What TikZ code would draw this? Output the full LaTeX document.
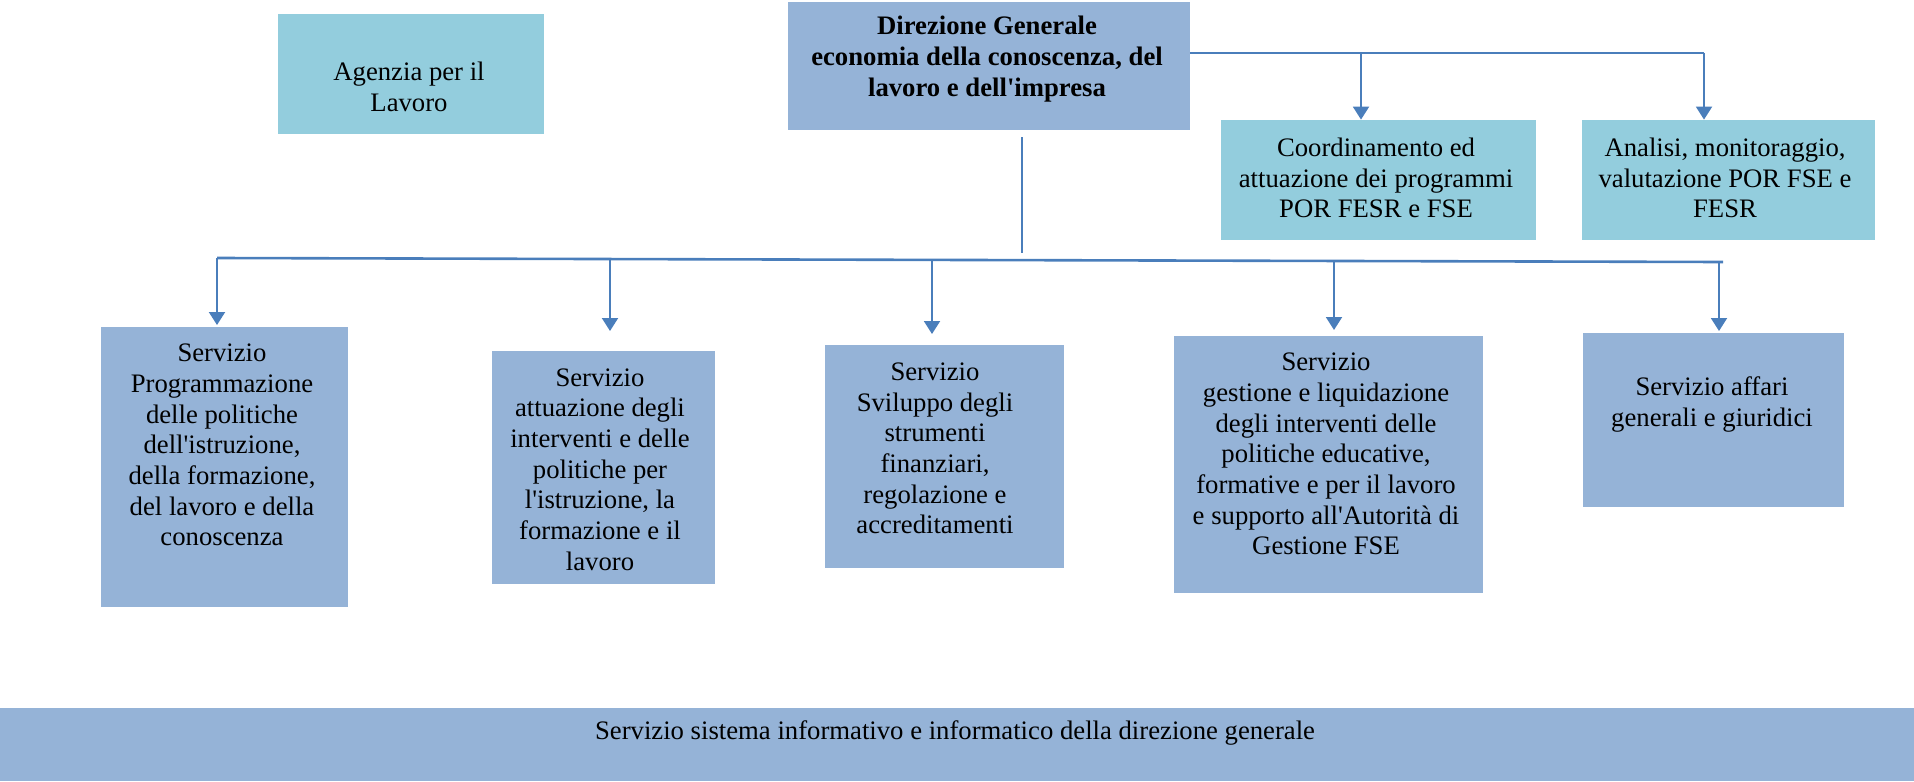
\documentclass[tikz,border=0pt]{standalone}
\usepackage{fontspec}
\setmainfont{Liberation Serif}
\usetikzlibrary{arrows.meta,fit}
\definecolor{aquafill}{HTML}{93CDDD}
\definecolor{bluefill}{HTML}{95B3D7}
\definecolor{linecol}{HTML}{4A7EBB}
\newcommand{\apo}{\textquotesingle}
\begin{document}
\begin{tikzpicture}[x=0.5pt,y=-0.5pt,
  aqbox/.style={fill=aquafill, draw=none, inner sep=0pt},
  blbox/.style={fill=bluefill, draw=none, inner sep=0pt},
  txt/.style={align=center, inner sep=0pt, font=\fontsize{13.35}{15.35}\selectfont},
  conn/.style={draw=linecol, line width=1pt},
  arr/.style={draw=linecol, line width=1pt, -{Triangle[length=6.5pt,width=8pt]}}]
\useasboundingbox (0,0) rectangle (1914,781);
% boxes
\node[aqbox, fit={(278,14) (544,134)}] (agz) {};
\node[blbox, fit={(788,2) (1190,130)}] (dir) {};
\node[aqbox, fit={(1221,120) (1536,240)}] (coord) {};
\node[aqbox, fit={(1582,120) (1875,240)}] (anal) {};
\node[blbox, fit={(101,327) (348,607)}] (s1) {};
\node[blbox, fit={(492,351) (715,584)}] (s2) {};
\node[blbox, fit={(825,345) (1064,568)}] (s3) {};
\node[blbox, fit={(1174,336) (1483,593)}] (s4) {};
\node[blbox, fit={(1583,333) (1844,507)}] (s5) {};
\node[blbox, fit={(0,708) (1914,781)}] (sis) {};
% texts
\node[txt] (tagz) at (409,87) {Agenzia per il\\Lavoro};
\node[txt, font=\fontsize{13.35}{15.35}\selectfont\bfseries] (tdir) at (987,59) {Direzione Generale\\economia della conoscenza, del\\lavoro e dell\apo impresa};
\node[txt] (tcoord) at (1376,178) {Coordinamento ed\\attuazione dei programmi\\POR FESR e FSE};
\node[txt] (tanal) at (1725,178) {Analisi, monitoraggio,\\valutazione POR FSE e\\FESR};
\node[txt] (ts1) at (222,445) {Servizio\\Programmazione\\delle politiche\\dell\apo istruzione,\\della formazione,\\del lavoro e della\\conoscenza};
\node[txt] (ts2) at (600,469.5) {Servizio\\attuazione degli\\interventi e delle\\politiche per\\l\apo istruzione, la\\formazione e il\\lavoro};
\node[txt] (ts3) at (935,448.5) {Servizio\\Sviluppo degli\\strumenti\\finanziari,\\regolazione e\\accreditamenti};
\node[txt] (ts4) at (1326,454) {Servizio\\gestione e liquidazione\\degli interventi delle\\politiche educative,\\formative e per il lavoro\\e supporto all\apo Autorità di\\Gestione FSE};
\node[txt] (ts5) at (1712,404.5) {Servizio affari\\generali e giuridici};
\node[txt] (tsis) at (955,733) {Servizio sistema informativo e informatico della direzione generale};
% connector coordinates
\coordinate (rb0) at (1190,53);
\coordinate (rb1) at (1361,53);
\coordinate (rb2) at (1704,53);
\coordinate (vtop) at (1022,137);
\coordinate (vbot) at (1022,253);
\coordinate (bL) at (217,258);
\coordinate (bR) at (1723,262);
\coordinate (b2) at (610,259);
\coordinate (b3) at (932,259.8);
\coordinate (b4) at (1334,261);
\coordinate (b5) at (1719,262);
\coordinate (t1) at (217,325);
\coordinate (t2) at (610,331);
\coordinate (t3) at (932,334);
\coordinate (t4) at (1334,330);
\coordinate (t5) at (1719,331);
% right bus
\draw[conn] (dir.east |- rb0) -- (rb2);
\draw[arr] (rb1) -- (rb1 |- coord.north);
\draw[arr] (rb2) -- (rb2 |- anal.north);
% vertical from direzione
\draw[conn] (vtop) -- (vbot);
% lower bus
\draw[conn, line width=1.3pt] (bL) -- (bR);
\draw[arr] (bL) -- (t1);
\draw[arr] (b2) -- (t2);
\draw[arr] (b3) -- (t3);
\draw[arr] (b4) -- (t4);
\draw[arr] (b5) -- (t5);
\end{tikzpicture}
\end{document}
